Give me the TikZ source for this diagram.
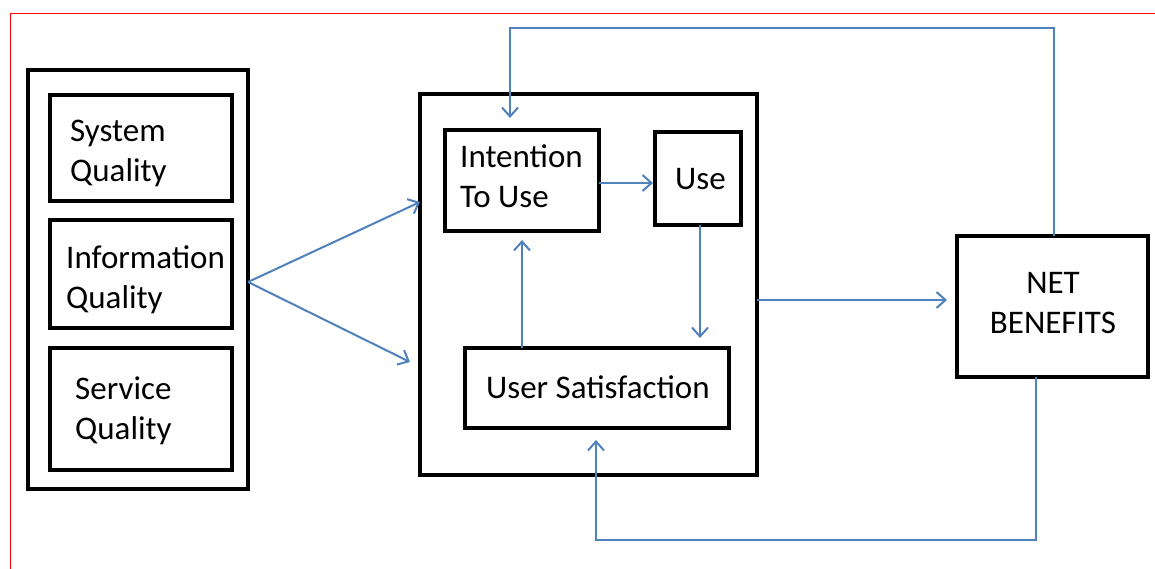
\documentclass[tikz,border=0pt]{standalone}
\usepackage{fontspec}
\setmainfont{Carlito}
\usetikzlibrary{arrows.meta,calc}
\definecolor{lineblue}{RGB}{79,129,189}
\begin{document}
\begin{tikzpicture}[x=1pt,y=-1pt,
  box/.style={draw=black,line width=3.2pt,rectangle,inner sep=0pt,anchor=center},
  lbl/.style={font=\fontsize{33}{40}\selectfont,align=left,inner sep=0pt,anchor=base west},
  conn/.style={draw=lineblue,line width=2pt,-{Straight Barb[length=9pt,width=16pt,line width=2pt]}},
  redline/.style={draw=red,line width=1.5pt}]
\useasboundingbox (0,0) rectangle (1155,569);
\draw[redline] (10.5,13.5) -- (1155,13.5);
\draw[redline] (10.5,13.5) -- (10.5,569);
% left group
\node[box,minimum width=220pt,minimum height=419pt] (outer) at (138,279.5) {};
\node[box,minimum width=182pt,minimum height=106pt] (sys) at (141,148) {};
\node[box,minimum width=182pt,minimum height=108pt] (info) at (141,274) {};
\node[box,minimum width=182pt,minimum height=122pt] (serv) at (141,409) {};
\node[lbl] (tsys) at (70,182) {System\\Quality};
\node[lbl] (tinfo) at (66,308) {Information\\Quality};
\node[lbl] (tserv) at (75,439) {Service\\Quality};
% middle group
\node[box,minimum width=337pt,minimum height=381pt] (mid) at (588.5,284.5) {};
\node[box,minimum width=154pt,minimum height=101pt] (itu) at (522,180.5) {};
\node[box,minimum width=86pt,minimum height=93pt] (use) at (698,178.5) {};
\node[box,minimum width=264pt,minimum height=80pt] (us) at (597,388) {};
\node[lbl] (titu) at (460,208) {Intention\\To Use};
\node[lbl] (tuse) at (675,190) {Use};
\node[lbl] (tus) at (486,398) {User Satisfaction};
% net benefits
\node[box,minimum width=191pt,minimum height=141pt] (net) at (1052.5,306.5) {};
\node[font=\fontsize{33}{40}\selectfont,align=center,inner sep=0pt,anchor=base] (tnet) at (1053,333) {NET\\BENEFITS};
% coordinates
\coordinate (src) at (248,282);
\coordinate (m1) at (420,202);
\coordinate (m2) at (410,362);
\coordinate (a3s) at (599,183);
\coordinate (a3e) at (653,183);
\coordinate (a4s) at (700,225);
\coordinate (a4e) at (700,338);
\coordinate (a5s) at (522,348);
\coordinate (a5e) at (522,240);
\coordinate (a6s) at (757,300);
\coordinate (a6e) at (947,300);
\coordinate (t1) at (1054,236);
\coordinate (t2) at (1054,28);
\coordinate (t3) at (510,28);
\coordinate (t4) at (510,118);
\coordinate (b1) at (1036,377);
\coordinate (b2) at (1036,540);
\coordinate (b3) at (596,540);
\coordinate (b4) at (596,440);
% connectors
\draw[conn] (src) -- (m1);
\draw[conn] (src) -- (m2);
\draw[conn] (a3s) -- (a3e);
\draw[conn] (a4s) -- (a4e);
\draw[conn] (a5s) -- (a5e);
\draw[conn] (a6s) -- (a6e);
\draw[conn] (t1) -- (t2) -- (t3) -- (t4);
\draw[conn] (b1) -- (b2) -- (b3) -- (b4);
\end{tikzpicture}
\end{document}
